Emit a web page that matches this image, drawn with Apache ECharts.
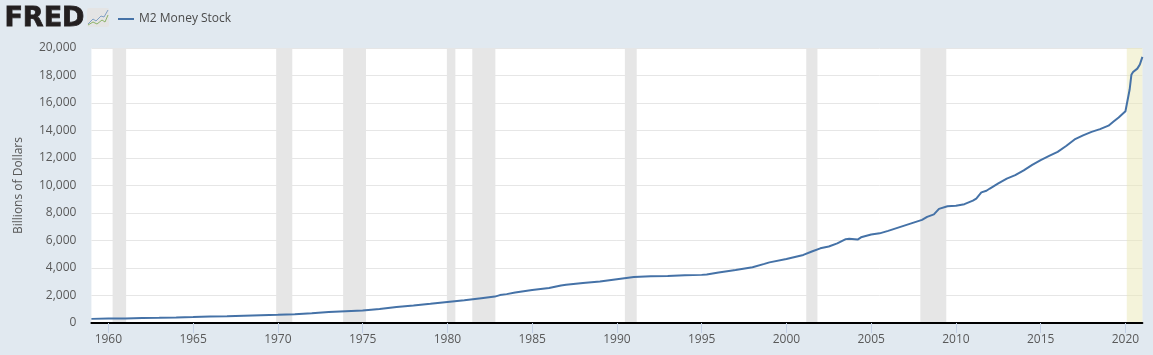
<!DOCTYPE html>
<html>
<head>
<meta charset="utf-8">
<title>M2 Money Stock</title>
<script src="https://cdn.jsdelivr.net/npm/echarts@6/dist/echarts.min.js"></script>
<style>
  html, body { margin: 0; padding: 0; background: #e1e9f0; }
  #chart { width: 1153px; height: 355px; }
</style>
</head>
<body>
<div id="chart"></div>
<script>
  var seriesName = 'M2 Money Stock'
  var yAxisName = 'Billions of Dollars'
  var xTicks = [1960, 1965, 1970, 1975, 1980, 1985, 1990, 1995, 2000, 2005, 2010, 2015, 2020]

  // decimal years, values
  var years = [
    1959, 1960, 1961, 1962, 1963, 1964, 1965, 1966, 1967, 1968, 1969,
    1970, 1971, 1972, 1973, 1974, 1975, 1976, 1977, 1978, 1979,
    1980, 1981, 1982, 1982.8, 1983.1, 1983.5, 1984, 1985, 1986, 1986.7, 1987, 1988, 1989,
    1990, 1991, 1992, 1993, 1994, 1995, 1995.3, 1996, 1997, 1998, 1998.7, 1999, 2000,
    2001, 2001.5, 2002, 2002.5, 2003, 2003.5, 2003.7, 2004.2, 2004.4, 2005, 2005.5, 2006, 2007, 2007.5,
    2008, 2008.3, 2008.7, 2009, 2009.5, 2010, 2010.5, 2011, 2011.2, 2011.5, 2011.8, 2012, 2012.5, 2013,
    2013.5, 2014, 2014.5, 2015, 2015.5, 2016, 2016.5, 2017, 2017.5, 2018, 2018.5, 2019, 2019.3, 2019.6,
    2020, 2020.1, 2020.25, 2020.35, 2020.45, 2020.7, 2020.85, 2021
  ]
  var m2Values = [
    300, 320, 335, 355, 375, 400, 430, 465, 490, 530, 570,
    600, 640, 715, 805, 860, 905, 1020, 1155, 1275, 1400,
    1530, 1650, 1800, 1920, 2030, 2100, 2220, 2400, 2540, 2730, 2780, 2910, 3010,
    3190, 3340, 3400, 3420, 3470, 3500, 3530, 3680, 3850, 4060, 4300, 4410, 4660,
    4950, 5200, 5430, 5560, 5790, 6100, 6120, 6070, 6230, 6430, 6520, 6700, 7100, 7300,
    7500, 7720, 7900, 8300, 8490, 8520, 8640, 8900, 9050, 9500, 9620, 9780, 10150, 10500,
    10750, 11100, 11500, 11850, 12150, 12450, 12870, 13350, 13650, 13900, 14100, 14350, 14650, 14950,
    15400, 15530, 17000, 18050, 18250, 18500, 18800, 19350
  ]

  var recessionStart = [1960.25, 1969.9, 1973.85, 1979.97, 1981.47, 1990.47, 2001.17, 2007.9]
  var recessionEnd = [1961.05, 1970.85, 1975.2, 1980.47, 1982.83, 1991.17, 2001.83, 2009.43]
  var covidStart = 2020.08
  var covidEnd = 2021

  var myChart = echarts.init(document.getElementById('chart'), null, { renderer: 'canvas' })

  var lineData = years.map(function (y, i) { return [y, m2Values[i]] })
  var bands = recessionStart.map(function (s, i) {
    return [{ xAxis: s }, { xAxis: recessionEnd[i] }]
  })
  bands.push([
    { xAxis: covidStart, itemStyle: { color: 'rgba(233,231,181,0.5)' } },
    { xAxis: covidEnd }
  ])

  var textFont = '"Open Sans", sans-serif'

  var option = {
    backgroundColor: '#e1e9f0',
    animation: false,
    grid: { show: true, backgroundColor: '#fff', borderWidth: 0, left: 91.4, right: 10.6, top: 48, bottom: 32 },
    legend: {
      data: [seriesName],
      left: 113,
      top: 8,
      icon: 'rect',
      itemWidth: 16,
      itemHeight: 2,
      itemGap: 0,
      itemStyle: { color: '#4572a7' },
      textStyle: { color: '#4a4a4a', fontFamily: textFont, fontSize: 12 }
    },
    xAxis: {
      type: 'value',
      min: 1959,
      max: 2021,
      z: 5,
      splitLine: { show: false },
      axisLine: { onZero: false, lineStyle: { color: '#000', width: 2 } },
      axisTick: { length: 10, customValues: xTicks, lineStyle: { color: '#c4d1e6', width: 1 } },
      axisLabel: {
        customValues: xTicks,
        formatter: function (v) { return String(v) },
        color: '#595959',
        fontFamily: textFont,
        fontSize: 12,
        margin: 11
      }
    },
    yAxis: {
      type: 'value',
      min: 0,
      max: 20000,
      interval: 2000,
      name: yAxisName,
      nameLocation: 'middle',
      nameGap: 67,
      nameTextStyle: { color: '#595959', fontFamily: textFont, fontSize: 12 },
      axisLine: { show: false },
      axisTick: { show: false },
      splitLine: { lineStyle: { color: '#e6e6e6', width: 1 } },
      axisLabel: {
        margin: 15,
        color: '#595959',
        fontFamily: textFont,
        fontSize: 12,
        formatter: function (v) { return v.toLocaleString('en-US') }
      }
    },
    series: [
      {
        name: seriesName,
        type: 'line',
        data: lineData,
        showSymbol: false,
        smooth: false,
        clip: true,
        lineStyle: { color: '#4572a7', width: 2 },
        itemStyle: { color: '#4572a7' },
        markArea: {
          silent: true,
          itemStyle: { color: '#e6e6e6' },
          data: bands
        }
      }
    ],
    // FRED logo
    graphic: [
      {
        type: 'text', left: 4, top: 5,
        style: { text: 'FRED', fontFamily: '"DejaVu Sans"', fontWeight: 'bold', fontSize: 27, fill: '#231f20', stroke: '#231f20', lineWidth: 0.8 }
      },
      {
        type: 'rect', shape: { x: 87, y: 8, width: 22, height: 19, r: 2 },
        style: { fill: '#e4e4e4' }
      },
      {
        type: 'polyline',
        shape: { points: [[88, 24], [93, 19], [96, 21], [101, 16], [104, 17], [108, 10]] },
        style: { stroke: '#7f9fc4', lineWidth: 1, fill: null }
      },
      {
        type: 'polyline',
        shape: { points: [[88, 25], [93, 22], [97, 24], [102, 20], [105, 22], [108, 15]] },
        style: { stroke: '#8cb369', lineWidth: 1, fill: null }
      }
    ]
  }
  myChart.setOption(option)
</script>
</body>
</html>
